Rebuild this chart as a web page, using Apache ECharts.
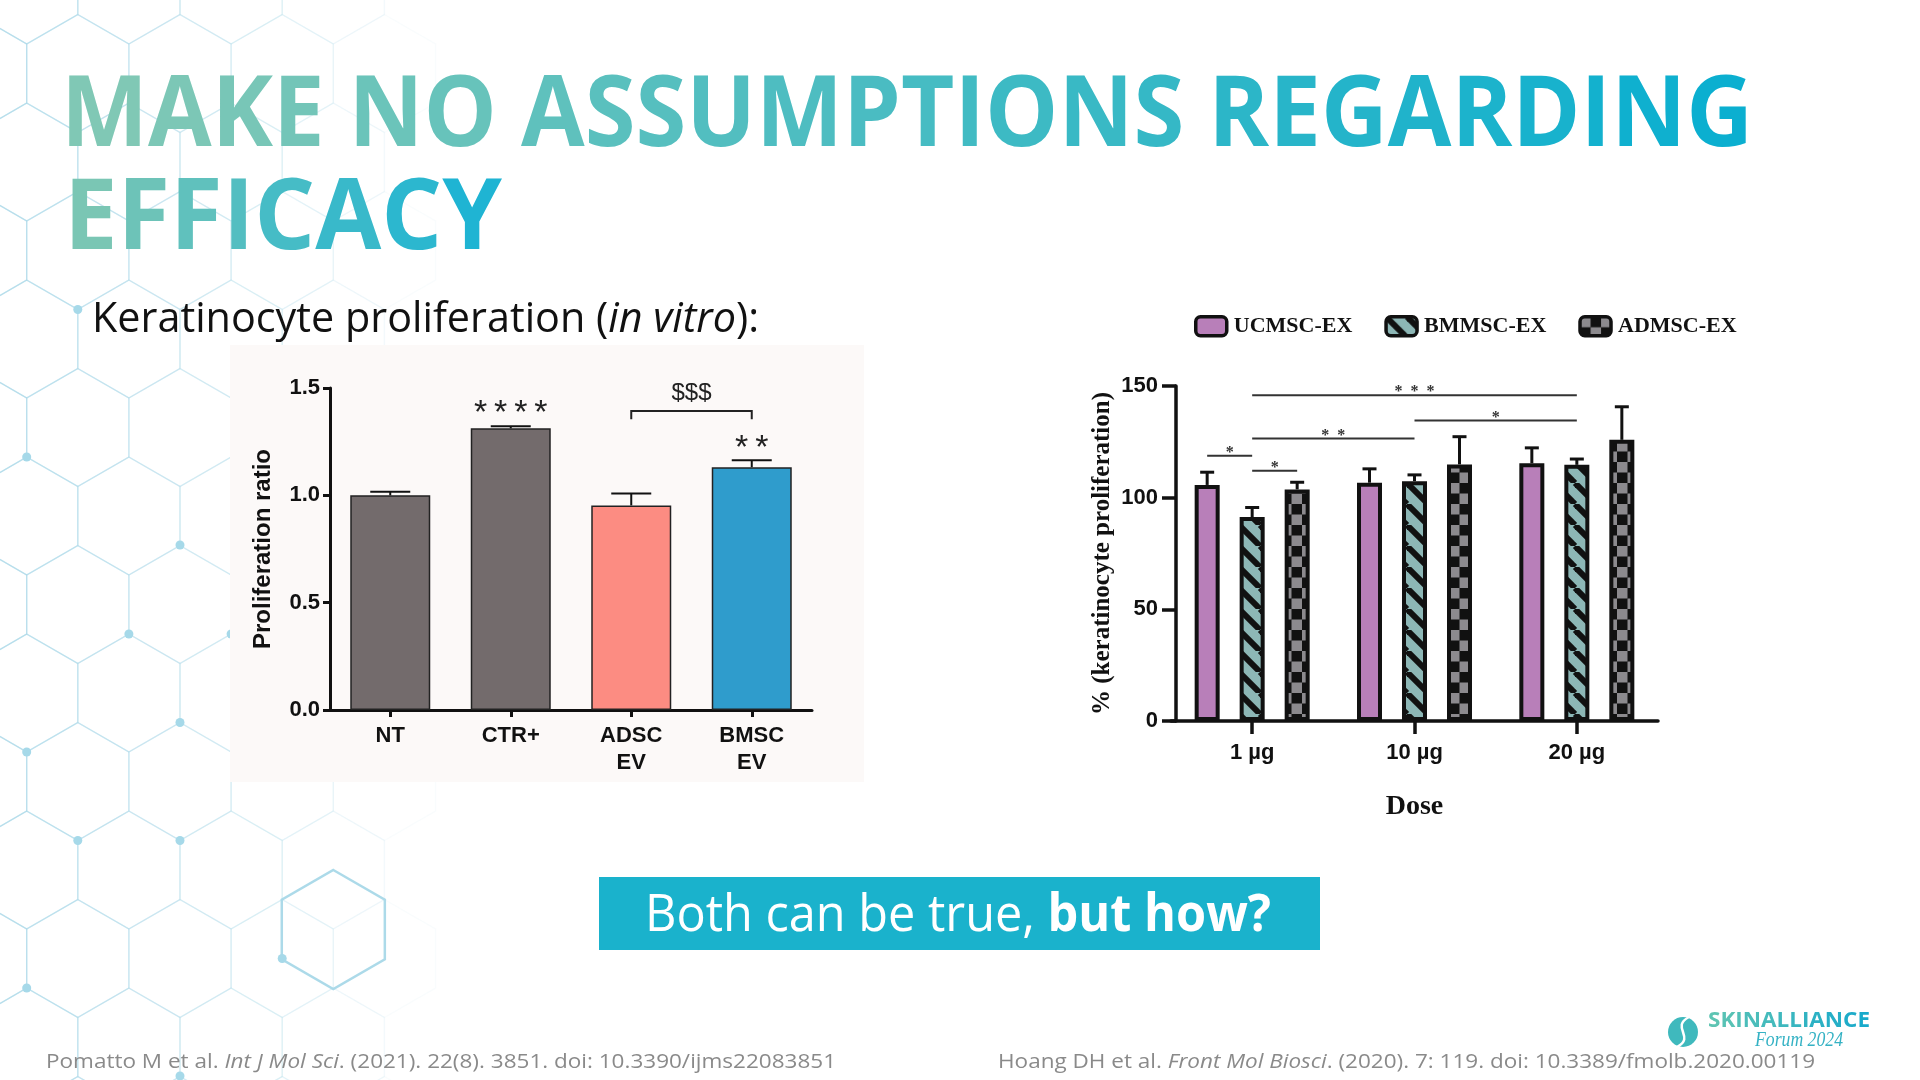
<!DOCTYPE html>
<html><head><meta charset="utf-8">
<script src="https://cdn.jsdelivr.net/npm/echarts@6/dist/echarts.min.js"></script>
<style>html,body{margin:0;padding:0;background:#fff}#c{width:1920px;height:1080px}</style>
</head><body><div id="c"></div>
<script>
// ===================== DATA =====================
// Left chart (Pomatto et al.)
const leftCategories = ['NT', 'CTR+', 'ADSC\nEV', 'BMSC\nEV'];
const leftValues = [1.00, 1.312, 0.953, 1.131];
const leftErrors = [0.017, 0.010, 0.055, 0.033];
const leftYMin = 0, leftYMax = 1.5, leftYStep = 0.5;
const leftMarkCats = [1, 3];
const leftMarkValues = [1.421, 1.258];
const leftMarkTexts = ['*\u2009*\u2009*\u2009*', '*\u2009*'];
const leftBracketCats = [2, 3];
const leftBracketValue = 1.393;
const leftBracketDrop = 1.355;
const leftBracketLabelValue = 1.477;
const leftBracketText = '$$$';

// Right chart (Hoang et al.)
const rightCategories = ['1 µg', '10 µg', '20 µg'];
const rightSeriesNames = ['UCMSC-EX', 'BMMSC-EX', 'ADMSC-EX'];
const ucmscValues = [105.7, 106.7, 115.4];
const ucmscErrors = [5.7, 6.2, 6.9];
const bmmscValues = [91.3, 107.4, 114.7];
const bmmscErrors = [4.3, 2.8, 2.6];
const admscValues = [103.7, 114.9, 125.9];
const admscErrors = [3.2, 12.4, 14.8];
const rightYMin = 0, rightYMax = 150, rightYStep = 50;
// significance bars: [fromCategory, fromBar], [toCategory, toBar], value
const sigFrom = [[0, 0], [0, 1], [0, 1], [1, 1], [0, 1]];
const sigTo = [[0, 1], [0, 2], [1, 1], [2, 1], [2, 1]];
const sigValues = [118.8, 112.1, 126.5, 134.5, 145.9];
const sigTexts = ['*', '*', '*  *', '*', '*  *  *'];

// ===================== STYLE =====================
const leftColors = ['#736b6c', '#736b6c', '#fc8c82', '#2f9ccc'];
const R_BAR_W = 25, R_BAR_GAP = 0.8, R_STEP = R_BAR_W * (1 + R_BAR_GAP);

const mctx = document.createElement('canvas').getContext('2d');
function tw(font, text) { mctx.font = font; return mctx.measureText(text).width; }
function fstr(size, fam, weight, style) { return (style || 'normal') + ' ' + (weight || 'normal') + ' ' + size + 'px "' + fam + '"'; }

function stripePattern() {
  const s = 21, c = document.createElement('canvas'); c.width = s; c.height = s;
  const g = c.getContext('2d');
  g.fillStyle = '#8db7b6'; g.fillRect(0, 0, s, s);
  g.strokeStyle = '#111'; g.lineWidth = 6;
  for (const o of [-s, 0, s]) { g.beginPath(); g.moveTo(o, 0); g.lineTo(o + s, s); g.stroke(); }
  return c;
}
function checkerPattern() {
  const s = 21, h = s / 2, c = document.createElement('canvas'); c.width = s; c.height = s;
  const g = c.getContext('2d');
  g.fillStyle = '#111'; g.fillRect(0, 0, s, s);
  g.fillStyle = '#8c8a8e'; g.fillRect(0, 0, h, h); g.fillRect(h, h, h, h);
  return c;
}
const rightFills = ['#b87fb9', { image: stripePattern(), repeat: 'repeat' }, { image: checkerPattern(), repeat: 'repeat' }];

// colour interpolation for gradient-like text
function hex2rgb(h) { return [1, 3, 5].map(i => parseInt(h.substr(i, 2), 16)); }
function mix(c1, c2, t) { const a = hex2rgb(c1), b = hex2rgb(c2); return 'rgb(' + a.map((v, i) => Math.round(v + (b[i] - v) * t)).join(',') + ')'; }
function gradText(text, c1, c2, base) {
  const rich = {}; let s = '';
  const n = text.length;
  for (let i = 0; i < n; i++) {
    rich['g' + i] = Object.assign({ fill: mix(c1, c2, n > 1 ? i / (n - 1) : 0) }, base);
    s += '{g' + i + '|' + text[i] + '}';
  }
  return { text: s, rich };
}

// ===================== BACKGROUND DECORATION =====================
const HEX_R = 59, HEX_W = HEX_R * Math.sqrt(3);
function hexPoints(cx, cy, r) { const p = []; for (let k = 0; k < 6; k++) { const a = Math.PI / 180 * (60 * k - 90); p.push([cx + r * Math.cos(a), cy + r * Math.sin(a)]); } return p; }
const deco = [];
for (let row = -10; row <= 5; row++) {
  const cy = 781.5 + row * 88.5;
  const x0 = (Math.abs(row) % 2 === 0) ? 77.8 : 128.9;
  for (let cx = x0 - 2 * HEX_W; cx < 480; cx += HEX_W) {
    const a = Math.max(0, 1 - cx / 440);
    if (a <= 0.02) continue;
    deco.push({ type: 'polygon', silent: true, z: -20, shape: { points: hexPoints(cx, cy, HEX_R) }, style: { fill: 'none', stroke: '#a9d8e8', lineWidth: 1.3, opacity: 0.6 * a } });
  }
}
deco.push({ type: 'polygon', silent: true, z: -19, shape: { points: hexPoints(333.3, 929.5, 59.5) }, style: { fill: 'none', stroke: '#a3d6e7', lineWidth: 2.5, opacity: 0.9 } });
const hexDots = [[77.8, 309.5], [26.7, 457], [180, 545], [128.9, 634], [231.1, 634], [180, 722.5], [26.7, 752], [77.8, 840.5], [180, 840.5], [26.7, 988], [282.2, 958.5], [180, 1076]];
hexDots.forEach(d => deco.push({ type: 'circle', silent: true, z: -18, shape: { cx: d[0], cy: d[1], r: 4.5 }, style: { fill: '#a6d9e9' } }));

// ===================== TEXT ELEMENTS =====================
const titleFont = fstr(99, 'Open Sans', 700);
const t1 = 'MAKE NO ASSUMPTIONS REGARDING', t2 = 'EFFICACY';
const t1s = 1692 / tw(titleFont, t1), t2s = 438 / tw(titleFont, t2);
const titleBase = { fontFamily: 'Open Sans', fontWeight: 700, fontSize: 99 };
const g1 = gradText(t1, '#80c8b5', '#0bafd0', titleBase);
const g2 = gradText(t2, '#7ac6b4', '#1fb4d3', titleBase);

const bulletA = 'Keratinocyte proliferation (', bulletI = 'in vitro', bulletB = '):';
const bSize = 42;
const bW = tw(fstr(bSize, 'Open Sans'), bulletA) + tw(fstr(bSize, 'Open Sans', 'normal', 'italic'), bulletI) + tw(fstr(bSize, 'Open Sans'), bulletB);
const bScale = 667 / bW;

const boxA = 'Both can be true, ', boxB = 'but how?';
const xSize = 52;
const xW = tw(fstr(xSize, 'Open Sans'), boxA) + tw(fstr(xSize, 'Open Sans', 700), boxB);
const xScale = 626 / xW;

const c1a = 'Pomatto M et al. ', c1i = 'Int J Mol Sci', c1b = '. (2021). 22(8). 3851. doi: 10.3390/ijms22083851';
const c2a = 'Hoang DH et al. ', c2i = 'Front Mol Biosci', c2b = '. (2020). 7: 119. doi: 10.3389/fmolb.2020.00119';
const cSize = 20;
function citeW(a, i, b) { return tw(fstr(cSize, 'Open Sans'), a) + tw(fstr(cSize, 'Open Sans', 'normal', 'italic'), i) + tw(fstr(cSize, 'Open Sans'), b); }
const c1s = 790 / citeW(c1a, c1i, c1b), c2s = 817 / citeW(c2a, c2i, c2b);
const citeRich = { n: { fontFamily: 'Open Sans', fontSize: cSize, fill: '#8a8a8a' }, i: { fontFamily: 'Open Sans', fontSize: cSize, fontStyle: 'italic', fill: '#8a8a8a' } };

const logoText = 'SKINALLIANCE', logoSub = 'Forum 2024';
const lScale = 162 / tw(fstr(21, 'Open Sans', 700), logoText);
const lsScale = 88 / tw(fstr(22, 'Liberation Serif', 'normal', 'italic'), logoSub);
const gl = gradText(logoText, '#5ec4b3', '#19aacb', { fontFamily: 'Open Sans', fontWeight: 700, fontSize: 21 });

const texts = [
  { type: 'rect', silent: true, z: -5, shape: { x: 230, y: 345, width: 634, height: 437 }, style: { fill: '#fcf9f8' } },
  { type: 'text', z: 10, x: 61, y: 118, scaleX: t1s, style: { text: g1.text, rich: g1.rich, align: 'left', verticalAlign: 'middle' } },
  { type: 'text', z: 10, x: 64, y: 221, scaleX: t2s, style: { text: g2.text, rich: g2.rich, align: 'left', verticalAlign: 'middle' } },
  { type: 'text', z: 10, x: 92, y: 320, scaleX: bScale, style: { text: '{n|' + bulletA + '}{i|' + bulletI + '}{n|' + bulletB + '}', align: 'left', verticalAlign: 'middle',
    rich: { n: { fontFamily: 'Open Sans', fontSize: bSize, fill: '#111' }, i: { fontFamily: 'Open Sans', fontSize: bSize, fontStyle: 'italic', fill: '#111' } } } },
  { type: 'rect', z: 5, shape: { x: 599, y: 877, width: 721, height: 73 }, style: { fill: '#1ab2cc' } },
  { type: 'text', z: 10, x: 645, y: 916, scaleX: xScale, style: { text: '{n|' + boxA + '}{b|' + boxB + '}', align: 'left', verticalAlign: 'middle',
    rich: { n: { fontFamily: 'Open Sans', fontSize: xSize, fill: '#fff' }, b: { fontFamily: 'Open Sans', fontSize: xSize, fontWeight: 700, fill: '#fff' } } } },
  { type: 'text', z: 10, x: 46, y: 1062, scaleX: c1s, style: { text: '{n|' + c1a + '}{i|' + c1i + '}{n|' + c1b + '}', align: 'left', verticalAlign: 'middle', rich: citeRich } },
  { type: 'text', z: 10, x: 998, y: 1062, scaleX: c2s, style: { text: '{n|' + c2a + '}{i|' + c2i + '}{n|' + c2b + '}', align: 'left', verticalAlign: 'middle', rich: citeRich } },
  { type: 'circle', z: 10, shape: { cx: 1683, cy: 1032, r: 15 }, style: { fill: '#3fb9bd' } },
  { type: 'bezierCurve', z: 11, shape: { x1: 1689, y1: 1017, cpx1: 1670, cpy1: 1027, cpx2: 1696, cpy2: 1037, x2: 1677, y2: 1047 }, style: { fill: 'none', stroke: '#fff', lineWidth: 2.5 } },
  { type: 'text', z: 10, x: 1708, y: 1021, scaleX: lScale, style: { text: gl.text, rich: gl.rich, align: 'left', verticalAlign: 'middle' } },
  { type: 'text', z: 10, x: 1755, y: 1040, scaleX: lsScale, style: { text: logoSub, font: fstr(22, 'Liberation Serif', 'normal', 'italic'), fill: '#35b2c4', align: 'left', verticalAlign: 'middle' } }
];

// ===================== CHART =====================
const chart = echarts.init(document.getElementById('c'), null, { renderer: 'canvas', width: 1920, height: 1080 });

const axisCommon = (w) => ({ axisLine: { show: true, lineStyle: { color: '#111', width: w } }, splitLine: { show: false } });
const lblSans = { fontFamily: 'Liberation Sans', fontWeight: 'bold', fontSize: 22, color: '#111' };

const rightValueSets = [ucmscValues, bmmscValues, admscValues];
const rightErrorSets = [ucmscErrors, bmmscErrors, admscErrors];

const rightBarSeries = rightSeriesNames.map((name, s) => ({
  name, type: 'bar', xAxisIndex: 1, yAxisIndex: 1,
  data: rightValueSets[s], barWidth: R_BAR_W, barGap: (R_BAR_GAP * 100) + '%',
  itemStyle: { color: rightFills[s], borderColor: '#111', borderWidth: 4 }
}));

const rightErrData = [];
rightValueSets.forEach((vals, s) => vals.forEach((v, c) => rightErrData.push([c, v, rightErrorSets[s][c], s])));
const leftErrData = leftValues.map((v, c) => [c, v, leftErrors[c], 1]);

function errRender(lineW, capHalf, stepPx) {
  return function (params, api) {
    const c = api.value(0), v = api.value(1), e = api.value(2), s = api.value(3);
    const base = api.coord([c, v]), top = api.coord([c, v + e]);
    const x = base[0] + (s - 1) * stepPx;
    return { type: 'group', children: [
      { type: 'line', shape: { x1: x, y1: base[1], x2: x, y2: top[1] }, style: { stroke: '#111', lineWidth: lineW } },
      { type: 'line', shape: { x1: x - capHalf, y1: top[1], x2: x + capHalf, y2: top[1] }, style: { stroke: '#111', lineWidth: lineW } }
    ] };
  };
}

const sigData = sigValues.map((v, i) => [sigFrom[i][0], sigFrom[i][1], sigTo[i][0], sigTo[i][1], v, i]);
const leftMarkData = leftMarkCats.map((c, i) => [c, leftMarkValues[i], i]);

const option = {
  backgroundColor: '#ffffff',
  animation: false,
  graphic: { elements: deco.concat(texts) },
  legend: {
    data: rightSeriesNames, left: 1194, top: 315, padding: 0,
    itemWidth: 31, itemHeight: 19, itemGap: 32, selectedMode: false,
    itemStyle: { borderColor: '#111', borderWidth: 3.5 },
    textStyle: { fontFamily: 'Liberation Serif', fontWeight: 'bold', fontSize: 22, color: '#111', padding: [0, 0, 0, 2] }
  },
  grid: [
    { left: 330, top: 388, width: 482, height: 322 },
    { left: 1171, top: 386, width: 487, height: 335 }
  ],
  xAxis: [
    Object.assign(axisCommon(3), { gridIndex: 0, type: 'category', data: leftCategories,
      axisTick: { show: true, alignWithLabel: true, length: 7, lineStyle: { color: '#111', width: 3 } },
      axisLabel: Object.assign({ margin: 12, lineHeight: 27 }, lblSans) }),
    Object.assign(axisCommon(3.5), { gridIndex: 1, type: 'category', data: rightCategories,
      axisTick: { show: true, alignWithLabel: true, length: 13, lineStyle: { color: '#111', width: 3.5 } },
      axisLabel: Object.assign({ margin: 19, lineHeight: 26 }, lblSans),
      name: 'Dose', nameLocation: 'middle', nameGap: 72,
      nameTextStyle: { fontFamily: 'Liberation Serif', fontWeight: 'bold', fontSize: 28, color: '#111' } })
  ],
  yAxis: [
    Object.assign(axisCommon(3), { gridIndex: 0, type: 'value', min: leftYMin, max: leftYMax, interval: leftYStep,
      axisTick: { show: true, length: 7, lineStyle: { color: '#111', width: 3 } },
      axisLabel: Object.assign({ margin: 10, formatter: v => v.toFixed(1) }, lblSans),
      name: 'Proliferation ratio', nameLocation: 'middle', nameGap: 55, nameRotate: 90,
      nameTextStyle: { fontFamily: 'Liberation Sans', fontWeight: 'bold', fontSize: 24, color: '#111' } }),
    Object.assign(axisCommon(3.5), { gridIndex: 1, type: 'value', min: rightYMin, max: rightYMax, interval: rightYStep, offset: -5,
      axisTick: { show: true, length: 14, lineStyle: { color: '#111', width: 3.5 } },
      axisLabel: Object.assign({ margin: 18 }, lblSans),
      name: '% (keratinocyte proliferation)', nameLocation: 'middle', nameGap: 61, nameRotate: 90,
      nameTextStyle: { fontFamily: 'Liberation Serif', fontWeight: 'bold', fontSize: 25, color: '#111' } })
  ],
  series: [
    { type: 'bar', xAxisIndex: 0, yAxisIndex: 0, barWidth: 80,
      data: leftValues.map((v, i) => ({ value: v, itemStyle: { color: leftColors[i] } })),
      itemStyle: { borderColor: '#222', borderWidth: 1.5 } },
    { type: 'custom', xAxisIndex: 0, yAxisIndex: 0, data: leftErrData, encode: { x: 0, y: 1 }, z: 3,
      renderItem: errRender(2, 20, 0) },
    { type: 'custom', xAxisIndex: 0, yAxisIndex: 0, data: leftMarkData, encode: { x: 0, y: 1 }, z: 3,
      renderItem: function (params, api) {
        const p = api.coord([api.value(0), api.value(1)]);
        return { type: 'text', style: { text: leftMarkTexts[api.value(2)], x: p[0], y: p[1] + 9, align: 'center', verticalAlign: 'middle', font: fstr(34, 'Liberation Sans'), fill: '#222' } };
      } },
    { type: 'custom', xAxisIndex: 0, yAxisIndex: 0, data: [[leftBracketCats[0], leftBracketValue]], encode: { x: 0, y: 1 }, z: 3,
      renderItem: function (params, api) {
        const a = api.coord([leftBracketCats[0], leftBracketValue]), b = api.coord([leftBracketCats[1], leftBracketValue]);
        const d = api.coord([leftBracketCats[0], leftBracketDrop]);
        const l = api.coord([leftBracketCats[0], leftBracketLabelValue]);
        return { type: 'group', children: [
          { type: 'polyline', shape: { points: [[a[0], d[1]], [a[0], a[1]], [b[0], b[1]], [b[0], d[1]]] }, style: { fill: 'none', stroke: '#222', lineWidth: 2 } },
          { type: 'text', style: { text: leftBracketText, x: (a[0] + b[0]) / 2, y: l[1], align: 'center', verticalAlign: 'middle', font: fstr(24, 'Liberation Sans'), fill: '#222' } }
        ] };
      } }
  ].concat(rightBarSeries).concat([
    { type: 'custom', xAxisIndex: 1, yAxisIndex: 1, data: rightErrData, encode: { x: 0, y: 1 }, z: 3,
      renderItem: errRender(3, 7, R_STEP) },
    { type: 'custom', xAxisIndex: 1, yAxisIndex: 1, data: sigData, encode: { x: 0, y: 4 }, z: 3,
      renderItem: function (params, api) {
        const v = api.value(4);
        const p0 = api.coord([api.value(0), v]), p1 = api.coord([api.value(2), v]);
        const x0 = p0[0] + (api.value(1) - 1) * R_STEP, x1 = p1[0] + (api.value(3) - 1) * R_STEP;
        return { type: 'group', children: [
          { type: 'line', shape: { x1: x0, y1: p0[1], x2: x1, y2: p0[1] }, style: { stroke: '#333', lineWidth: 2 } },
          { type: 'text', style: { text: sigTexts[api.value(5)], x: (x0 + x1) / 2, y: p0[1] - 3, align: 'center', verticalAlign: 'middle', font: fstr(16, 'Liberation Serif', 'bold'), fill: '#333' } }
        ] };
      } }
  ])
};
chart.setOption(option);
</script>
</body></html>
